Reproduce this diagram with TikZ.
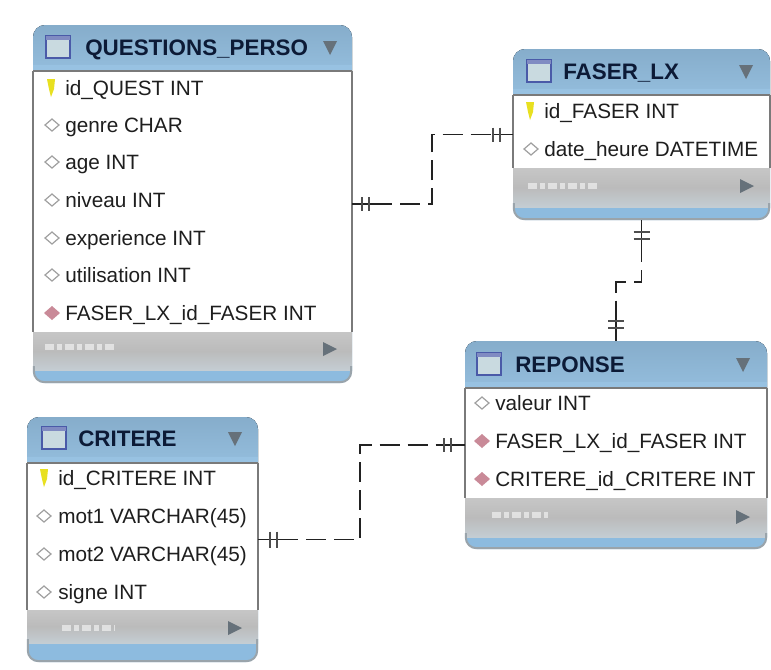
\documentclass[tikz,border=0pt]{standalone}
\usepackage{fontspec}
\setmainfont{Liberation Sans}
\usetikzlibrary{calc}
\definecolor{hdrblue}{HTML}{8DBBDF}
\definecolor{hdrtop}{HTML}{86ADCB}
\definecolor{hdrlow}{HTML}{98C2E2}
\definecolor{titleink}{HTML}{0C1A36}
\definecolor{rowink}{HTML}{1E1E1E}
\definecolor{edgegray}{HTML}{7A7A7A}
\definecolor{footlight}{HTML}{C6C6C6}
\definecolor{footmid}{HTML}{BBBBBB}
\definecolor{footlow}{HTML}{C4CDD3}
\definecolor{rimgray}{HTML}{9AA4AB}
\definecolor{arrowgray}{HTML}{66717A}
\definecolor{iconblue}{HTML}{4A5AA8}
\definecolor{iconfill}{HTML}{C9DAE0}
\definecolor{keyyellow}{HTML}{E8E020}
\definecolor{fkred}{HTML}{C98A98}
\definecolor{connink}{HTML}{222222}
\tikzset{
  x=0.75pt,y=-0.75pt,
  tablebox/.style={rounded corners=9pt,fill=hdrblue,inner sep=0pt,outer sep=0pt,draw=none},
  titletext/.style={anchor=base west,inner sep=0pt,font=\fontsize{16.8}{20}\selectfont\bfseries,text=titleink},
  rowtext/.style={anchor=base west,inner sep=0pt,font=\fontsize{15.55}{18}\selectfont,text=rowink},
  conn/.style={draw=connink,line width=1.3pt,dash pattern=on 15pt off 6pt},
  stub/.style={draw=connink,line width=1.3pt},
  tick/.style={draw=connink!80,line width=1.5pt},
}
% name, x1, y1, x2, y2, header bottom, white bottom, gray bottom
\newcommand{\erdtable}[8]{%
  \pgfmathsetmacro{\cxx}{(#2+#4)/2}%
  \pgfmathsetmacro{\cyy}{(#3+#5)/2}%
  \pgfmathsetmacro{\www}{(#4-#2)*0.75}%
  \pgfmathsetmacro{\hhh}{(#5-#3)*0.75}%
  \node[tablebox,minimum width=\www pt,minimum height=\hhh pt] (#1) at (\cxx,\cyy) {};
  \fill[top color=hdrtop,bottom color=hdrlow,rounded corners=9pt] (#2,#3) -- (#4,#3) -- (#4,#6+14) -- (#2,#6+14) -- cycle;
  \fill[hdrlow] (#2,#6-6) rectangle (#4,#6);
  \fill[top color=footlight,bottom color=footlow,middle color=footmid] (#2,#7) rectangle (#4,#8);
  \fill[white] (#2,#6) rectangle (#4,#7);
  \draw[rimgray,line width=1.5pt,rounded corners=8pt] (#2+.8,#8-4) -- (#2+.8,#5-.8) -- (#4-.8,#5-.8) -- (#4-.8,#8-4);
  \draw[edgegray,line width=0.8pt] (#2,#6) -- (#2,#7) (#4,#7) -- (#4,#6) (#2,#6) -- (#4,#6);
}
\newcommand{\tableicon}[2]{%
  \fill[iconfill] (#1-12,#2-11) rectangle (#1+12,#2+11);
  \draw[iconblue,line width=1.1pt] (#1-12,#2-11) rectangle (#1+12,#2+11);
  \fill[iconblue!70] (#1-12,#2-11) rectangle (#1+12,#2-7);
}
\newcommand{\downarrowicon}[2]{\fill[arrowgray] (#1-7,#2-6) -- (#1+7,#2-6) -- (#1,#2+8) -- cycle;}
\newcommand{\rightarrowicon}[2]{\fill[arrowgray] (#1-6,#2-7) -- (#1+8,#2) -- (#1-6,#2+7) -- cycle;}
\newcommand{\keyicon}[2]{\fill[keyyellow] (#1-4,#2-9) -- (#1+4,#2-9) -- (#1+3,#2+1) -- (#1,#2+9) -- (#1-2,#2+1) -- cycle;}
\newcommand{\openicon}[2]{\draw[gray!75,fill=white,line width=0.9pt] (#1-7,#2) -- (#1,#2-6) -- (#1+7,#2) -- (#1,#2+6) -- cycle;}
\newcommand{\fkicon}[2]{\fill[fkred] (#1-8,#2) -- (#1,#2-7) -- (#1+8,#2) -- (#1,#2+7) -- cycle;}
\newcommand{\smudge}[3]{\draw[white,opacity=.55,line width=5pt,dash pattern=on 7pt off 2pt on 4pt off 2pt] (#1,#3) -- (#2,#3);}
\begin{document}
\begin{tikzpicture}
\useasboundingbox (0,0) rectangle (771,669);
\fill[white] (0,0) rectangle (771,669);

% tables
\erdtable{q}{33}{25}{352}{383}{71}{332}{370}
\erdtable{f}{513}{49}{770}{220}{95}{168}{207}
\erdtable{r}{465}{341}{767}{549}{388}{498}{537}
\erdtable{c}{27}{417}{258}{662}{463}{610}{643}

% icons in headers and footers
\tableicon{58}{47} \tableicon{539}{71} \tableicon{489}{364} \tableicon{54}{438}
\downarrowicon{330}{47} \downarrowicon{746}{71} \downarrowicon{743}{364} \downarrowicon{235}{438}
\rightarrowicon{329}{349} \rightarrowicon{746}{186} \rightarrowicon{742}{517} \rightarrowicon{234}{628}
\smudge{45}{115}{347} \smudge{528}{598}{186} \smudge{492}{548}{515} \smudge{62}{115}{628}

% titles
\node[titletext] (qt) at (85,55) {QUESTIONS\_PERSO};
\node[titletext] (ft) at (563,79) {FASER\_LX};
\node[titletext] (rt) at (515,372) {REPONSE};
\node[titletext] (ct) at (78,446) {CRITERE};

% QUESTIONS_PERSO rows
\keyicon{51}{88} \openicon{52}{125} \openicon{52}{162} \openicon{52}{200} \openicon{52}{238} \openicon{52}{275} \fkicon{52}{313}
\node[rowtext] (q1) at (65,95) {id\_QUEST INT};
\node[rowtext] (q2) at (65,132) {genre CHAR};
\node[rowtext] (q3) at (65,169) {age INT};
\node[rowtext] (q4) at (65,207) {niveau INT};
\node[rowtext] (q5) at (65,245) {experience INT};
\node[rowtext] (q6) at (65,282) {utilisation INT};
\node[rowtext] (q7) at (65,320) {FASER\_LX\_id\_FASER INT};

% FASER_LX rows
\keyicon{530}{111} \openicon{531}{149}
\node[rowtext] (f1) at (544,118) {id\_FASER INT};
\node[rowtext] (f2) at (544,156) {date\_heure DATETIME};

% REPONSE rows
\openicon{482}{403} \fkicon{482}{441} \fkicon{482}{479}
\node[rowtext] (r1) at (495,410) {valeur INT};
\node[rowtext] (r2) at (495,448) {FASER\_LX\_id\_FASER INT};
\node[rowtext] (r3) at (495,486) {CRITERE\_id\_CRITERE INT};

% CRITERE rows
\keyicon{44}{478} \openicon{44}{516} \openicon{44}{554} \openicon{44}{592}
\node[rowtext] (c1) at (58,485) {id\_CRITERE INT};
\node[rowtext] (c2) at (58,523) {mot1 VARCHAR(45)};
\node[rowtext] (c3) at (58,561) {mot2 VARCHAR(45)};
\node[rowtext] (c4) at (58,599) {signe INT};

% connector QUESTIONS_PERSO -- FASER_LX
\coordinate (m1) at (432,100);
\draw[conn] ($(q.east)+(20,0)$) -- (m1 |- q.east) -- (m1 |- f.west) -- ($(f.west)+(-20,0)$);
\draw[stub] (q.east) -- ($(q.east)+(20,0)$);
\draw[stub] (f.west) -- ($(f.west)+(-20,0)$);
\foreach \d in {10,17} \draw[tick] ($(q.east)+(\d,-7)$) -- ($(q.east)+(\d,7)$);
\foreach \d in {13,20} \draw[tick] ($(f.west)+(-\d,-7)$) -- ($(f.west)+(-\d,7)$);

% connector FASER_LX -- REPONSE
\coordinate (m2) at (600,282);
\draw[conn] ($(f.south)+(0,22)$) -- (f.south |- m2) -- (r.north |- m2) -- ($(r.north)+(0,-22)$);
\draw[stub] (f.south) -- ($(f.south)+(0,22)$);
\draw[stub] (r.north) -- ($(r.north)+(0,-22)$);
\foreach \d in {12,19} \draw[tick] ($(f.south)+(-8,\d)$) -- ($(f.south)+(8,\d)$);
\foreach \d in {13,20} \draw[tick] ($(r.north)+(-8,-\d)$) -- ($(r.north)+(8,-\d)$);

% connector CRITERE -- REPONSE
\coordinate (m3) at (360,500);
\draw[conn] ($(c.east)+(20,0)$) -- (m3 |- c.east) -- (m3 |- r.west) -- ($(r.west)+(-20,0)$);
\draw[stub] (c.east) -- ($(c.east)+(20,0)$);
\draw[stub] (r.west) -- ($(r.west)+(-20,0)$);
\foreach \d in {12,19} \draw[tick] ($(c.east)+(\d,-8)$) -- ($(c.east)+(\d,8)$);
\foreach \d in {14,21} \draw[tick] ($(r.west)+(-\d,-7)$) -- ($(r.west)+(-\d,7)$);
\end{tikzpicture}
\end{document}
